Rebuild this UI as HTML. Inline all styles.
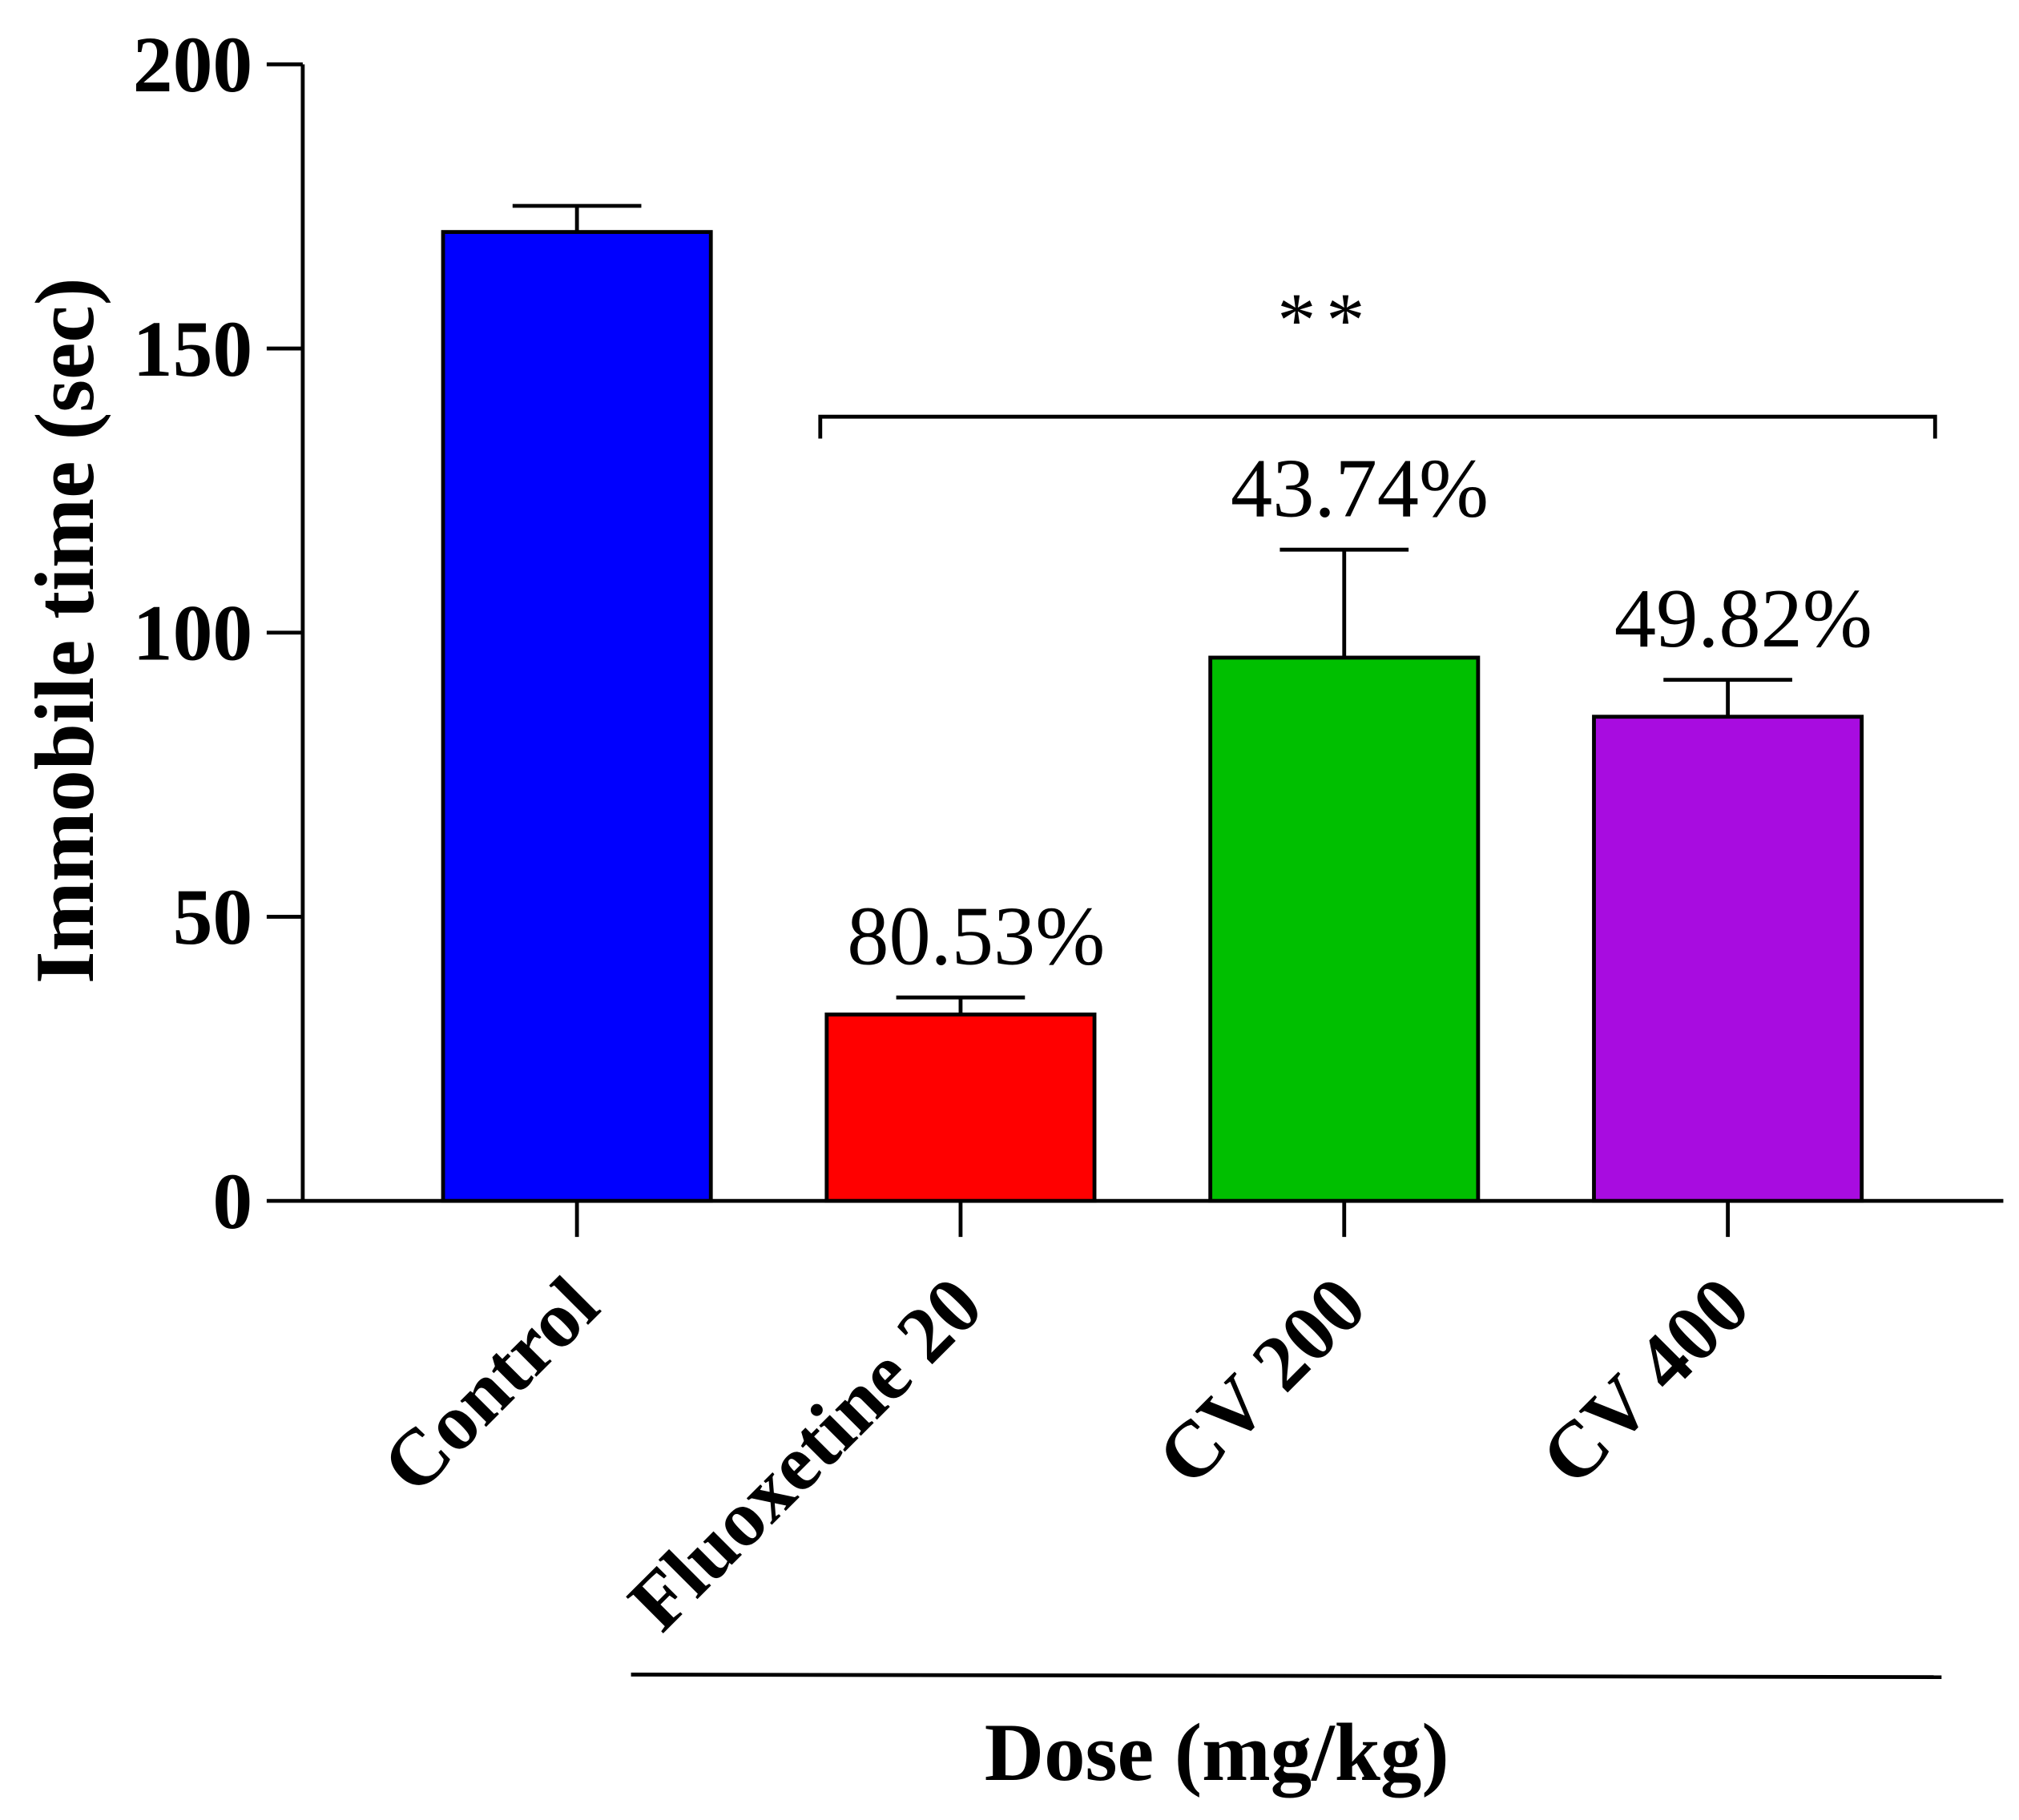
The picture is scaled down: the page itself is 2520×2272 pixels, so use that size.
<!DOCTYPE html>
<html><head><meta charset="utf-8"><style>
html,body{margin:0;padding:0;background:#fff;}
svg{display:block;}
text{font-family:"Liberation Serif",serif;fill:#000;}
</style></head><body>
<svg id="chart" width="2520" height="2272" viewBox="0 0 1568 1414" xmlns="http://www.w3.org/2000/svg"></svg>
<script>
const categories = ["Control","Fluoxetine 20","CV 200","CV 400"];
const values = [170.5, 32.8, 95.6, 85.2];
const errors = [4.6, 3.0, 19.0, 6.5];
const colors = ["#0000ff","#ff0000","#00bf00","#a80ce0"];
const pctLabels = ["", "80.53%", "43.74%", "49.82%"];
const yTicks = [0,50,100,150,200];
const sigLevel = 138;

const NS="http://www.w3.org/2000/svg";
const svg=document.getElementById('chart');
const y0=933, yTop=50, yMax=200, xAxis0=235, xAxis1=1556;
const yS=v=>y0-(y0-yTop)*v/yMax;
const xC=i=>448+i*298;
const barW=210;
function mk(tag,attrs,parent){const e=document.createElementNS(NS,tag);for(const k in attrs)e.setAttribute(k,attrs[k]);(parent||svg).appendChild(e);return e;}

let e;
e=mk('line',{x1:xAxis0,y1:yTop,x2:xAxis0,y2:y0+1.5,stroke:'#000','stroke-width':3});


e=mk('line',{x1:xAxis0-1.5,y1:y0,x2:xAxis1,y2:y0,stroke:'#000','stroke-width':3});



yTicks.forEach(t=>{
  const y=yS(t);
  const l=mk('line',{x1:207,y1:y,x2:xAxis0,y2:y,stroke:'#000','stroke-width':3});
  
  
  const tx=mk('text',{x:196,y:y+21,'text-anchor':'end','font-size':62,'font-weight':'bold'});
  tx.textContent=t;
  
  
});

categories.forEach((c,i)=>{
  const x=xC(i);
  const yt=yS(values[i]), ye=yS(values[i]+errors[i]);
  const b=mk('rect',{x:x-barW/2+1,y:yt,width:barW-2,height:y0-yt,fill:colors[i],stroke:'#000','stroke-width':3});
  
  
  const ev=mk('line',{x1:x,y1:yt,x2:x,y2:ye,stroke:'#000','stroke-width':3});
  
  
  const ec=mk('line',{x1:x-50,y1:ye,x2:x+50,y2:ye,stroke:'#000','stroke-width':3});
  
  
  const tk=mk('line',{x1:x,y1:y0,x2:x,y2:961,stroke:'#000','stroke-width':3});
  
  
  const lb=mk('text',{x:0,y:0,'text-anchor':'end','font-size':62,'font-weight':'bold',transform:`translate(${x+20},${1018}) rotate(-45)`});
  lb.textContent=c;
  
  
  if(pctLabels[i]){
    const p=mk('text',{x:x+12,y:ye-26,'text-anchor':'middle','font-size':65});
    p.textContent=pctLabels[i];
    
    
  }
});

const by=yS(sigLevel);
e=mk('path',{d:`M637 ${by+17} V${by} H1503 V${by+17}`,fill:'none',stroke:'#000','stroke-width':3});


e=mk('text',{x:1030,y:by-55,'text-anchor':'middle','font-size':60,'letter-spacing':8});
e.textContent='**';



e=mk('text',{x:0,y:0,'text-anchor':'middle','font-size':65,'font-weight':'bold',transform:'translate(72,490) rotate(-90)'});
e.textContent='Immobile time (sec)';



e=mk('line',{x1:490,y1:1301,x2:1508,y2:1303,stroke:'#000','stroke-width':3});


e=mk('text',{x:945,y:1383,'text-anchor':'middle','font-size':64,'font-weight':'bold'});
e.textContent='Dose (mg/kg)';


</script>
</body></html>
